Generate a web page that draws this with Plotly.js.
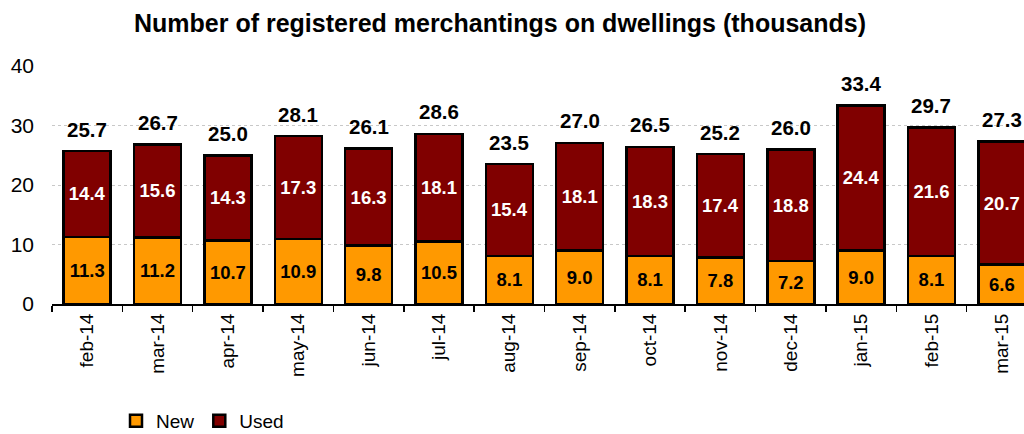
<!DOCTYPE html>
<html><head><meta charset="utf-8">
<script src="https://cdn.plot.ly/plotly-3.0.1.min.js"></script>
<style>html,body{margin:0;padding:0;overflow:hidden;background:#fff;width:1024px;height:434px}</style>
</head><body><div id="chart"></div>
<script>
const months = ["feb-14","mar-14","apr-14","may-14","jun-14","jul-14","aug-14","sep-14","oct-14","nov-14","dec-14","jan-15","feb-15","mar-15"];
const newVals = [11.3,11.2,10.7,10.9,9.8,10.5,8.1,9.0,8.1,7.8,7.2,9.0,8.1,6.6];
const usedVals = [14.4,15.6,14.3,17.3,16.3,18.1,15.4,18.1,18.3,17.4,18.8,24.4,21.6,20.7];
const totals = [25.7,26.7,25.0,28.1,26.1,28.6,23.5,27.0,26.5,25.2,26.0,33.4,29.7,27.3];

const F = "Liberation Sans, Arial, sans-serif";
const fmt = v => v.toFixed(1);

const traces = [
  {type:"bar", name:"New", x:months, y:newVals, text:newVals.map(fmt), textposition:"inside",
   insidetextanchor:"middle", constraintext:"none",
   textfont:{family:F, size:18.5, color:"#000", weight:"bold"},
   marker:{color:"#FF9900", line:{color:"#000", width:2.5}}, hoverinfo:"skip"},
  {type:"bar", name:"Used", x:months, y:usedVals, text:usedVals.map(fmt), textposition:"inside",
   insidetextanchor:"middle", constraintext:"none",
   textfont:{family:F, size:18.5, color:"#fff", weight:"bold"},
   marker:{color:"#800000", line:{color:"#000", width:2.5}}, hoverinfo:"skip"}
];

const annotations = months.map((m,i)=>({
  x:m, y:newVals[i]+usedVals[i], xref:"x", yref:"y", text:fmt(totals[i]), showarrow:false,
  yanchor:"middle", yshift:22, font:{family:F, size:20.5, color:"#000", weight:"bold"}
}));

const W = 1038;
const layout = {
  width:W, height:434, barmode:"stack", bargap:0.332,
  paper_bgcolor:"#fff", plot_bgcolor:"#fff",
  margin:{l:52, r:1, t:66, b:130, autoexpand:false},
  title:{text:"<b>Number of registered merchantings on dwellings (thousands)</b>",
    font:{family:F, size:25, color:"#000"}, xref:"container", x:500/W, xanchor:"center",
    yref:"container", y:1-23/434, yanchor:"middle"},
  xaxis:{type:"category", tickangle:-90, tickfont:{family:F, size:19, color:"#000"},
    showline:true, linecolor:"#000", linewidth:2, ticks:"outside", tickson:"boundaries",
    ticklen:6, tickwidth:1.5, tickcolor:"#000", showgrid:false, fixedrange:true, automargin:false},
  yaxis:{range:[0,40], dtick:10, tickfont:{family:F, size:21, color:"#000"},
    showline:false, ticks:"", gridcolor:"#c8c8c8", griddash:"dot", gridwidth:1,
    zeroline:false, ticklabelstandoff:17, fixedrange:true, automargin:false},
  showlegend:true,
  legend:{orientation:"h", xref:"container", x:116/W, xanchor:"left", yref:"container", y:13/434, yanchor:"middle",
    font:{family:F, size:19, color:"#000"}, itemwidth:30, traceorder:"normal"},
  annotations:annotations
};
Plotly.newPlot("chart", traces, layout, {displayModeBar:false, staticPlot:true});
</script></body></html>
